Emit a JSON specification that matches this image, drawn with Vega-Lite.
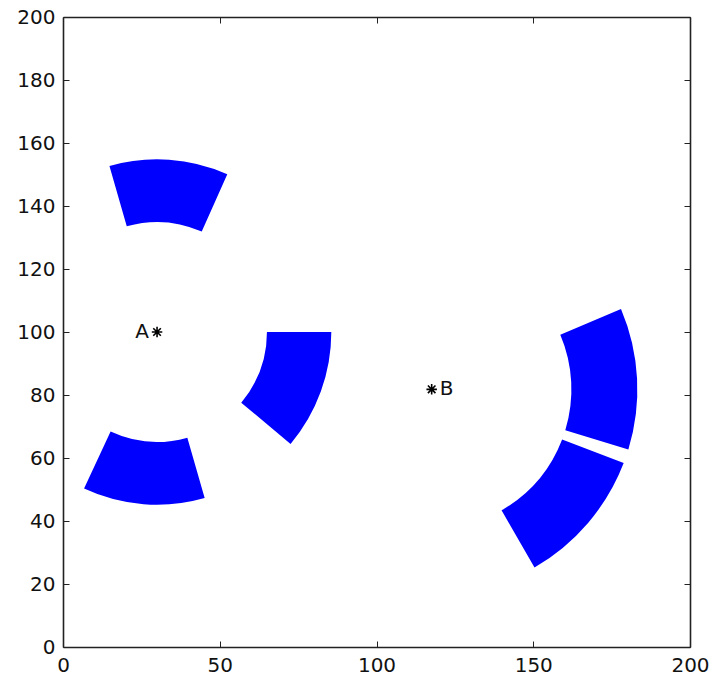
{
  "$schema": "https://vega.github.io/schema/vega-lite/v6.json",
  "autosize": {"type": "none"},
  "padding": {"left": 63, "top": 17, "right": 23, "bottom": 37},
  "width": 627,
  "height": 630,
  "background": "white",
  "datasets": {
    "sectors": [
      {"id": 1, "cx": 30, "cy": 100, "r1": 35, "r2": 55, "a1": 66, "a2": 106},
      {"id": 2, "cx": 30, "cy": 100, "r1": 35, "r2": 55, "a1": 245, "a2": 286},
      {"id": 3, "cx": 30, "cy": 100, "r1": 35, "r2": 55.5, "a1": -40, "a2": 0},
      {"id": 4, "cx": 117.6, "cy": 81.8, "r1": 44.5, "r2": 65.5, "a1": -17, "a2": 23},
      {"id": 5, "cx": 117.6, "cy": 81.8, "r1": 44.5, "r2": 65.5, "a1": -60, "a2": -21}
    ],
    "centers": [
      {"label": "A", "x": 30, "y": 100},
      {"label": "B", "x": 117.6, "y": 81.8}
    ]
  },
  "layer": [
    {
      "data": {"name": "sectors"},
      "mark": {"type": "arc", "color": "#0000ff"},
      "encoding": {
        "x": {"field": "cx", "type": "quantitative", "title": null,
              "scale": {"domain": [0, 200], "nice": false, "zero": false},
              "axis": {"orient": "bottom", "values": [0, 50, 100, 150, 200]}},
        "y": {"field": "cy", "type": "quantitative", "title": null,
              "scale": {"domain": [0, 200], "nice": false, "zero": false},
              "axis": {"orient": "left", "values": [0, 20, 40, 60, 80, 100, 120, 140, 160, 180, 200]}},
        "theta": {"field": "a1", "type": "quantitative", "stack": null,
                  "scale": {"type": "linear", "domain": [90, -270], "range": [0, 6.283185307179586]}},
        "theta2": {"field": "a2"},
        "radius": {"field": "r2", "type": "quantitative",
                   "scale": {"type": "linear", "domain": [0, 200], "range": [0, 628], "zero": true}},
        "radius2": {"field": "r1"}
      }
    },
    {
      "data": {"name": "centers"},
      "mark": {"type": "point", "shape": "M0,-1L0,1M-1,0L1,0M-0.72,-0.72L0.72,0.72M-0.72,0.72L0.72,-0.72", "filled": false, "stroke": "#000", "strokeWidth": 1.6, "size": 110, "opacity": 1},
      "encoding": {
        "x": {"field": "x", "type": "quantitative", "title": null,
              "axis": {"orient": "top", "labels": false, "values": [0, 50, 100, 150, 200]}},
        "y": {"field": "y", "type": "quantitative", "title": null,
              "axis": {"orient": "right", "labels": false, "values": [0, 20, 40, 60, 80, 100, 120, 140, 160, 180, 200]}}
      }
    },
    {
      "data": {"name": "centers"},
      "transform": [{"filter": "datum.label === 'A'"}],
      "mark": {"type": "text", "align": "right", "baseline": "middle", "dx": -8, "font": "DejaVu Sans", "fontSize": 20, "color": "#111"},
      "encoding": {
        "x": {"field": "x", "type": "quantitative", "axis": null},
        "y": {"field": "y", "type": "quantitative", "axis": null},
        "text": {"field": "label"}
      }
    },
    {
      "data": {"name": "centers"},
      "transform": [{"filter": "datum.label === 'B'"}],
      "mark": {"type": "text", "align": "left", "baseline": "middle", "dx": 8, "font": "DejaVu Sans", "fontSize": 20, "color": "#111"},
      "encoding": {
        "x": {"field": "x", "type": "quantitative", "axis": null},
        "y": {"field": "y", "type": "quantitative", "axis": null},
        "text": {"field": "label"}
      }
    }
  ],
  "resolve": {"axis": {"x": "independent", "y": "independent"}},
  "config": {
    "view": {"stroke": null},
    "axis": {
      "grid": false,
      "labelFont": "DejaVu Sans",
      "labelFontSize": 20,
      "labelColor": "#111",
      "tickColor": "#222",
      "tickSize": -6,
      "tickWidth": 1,
      "domainColor": "#222",
      "domainWidth": 1.6,
      "labelFlush": false,
      "labelOverlap": false,
      "labelBound": false,
      "labelPadding": 14
    }
  }
}
